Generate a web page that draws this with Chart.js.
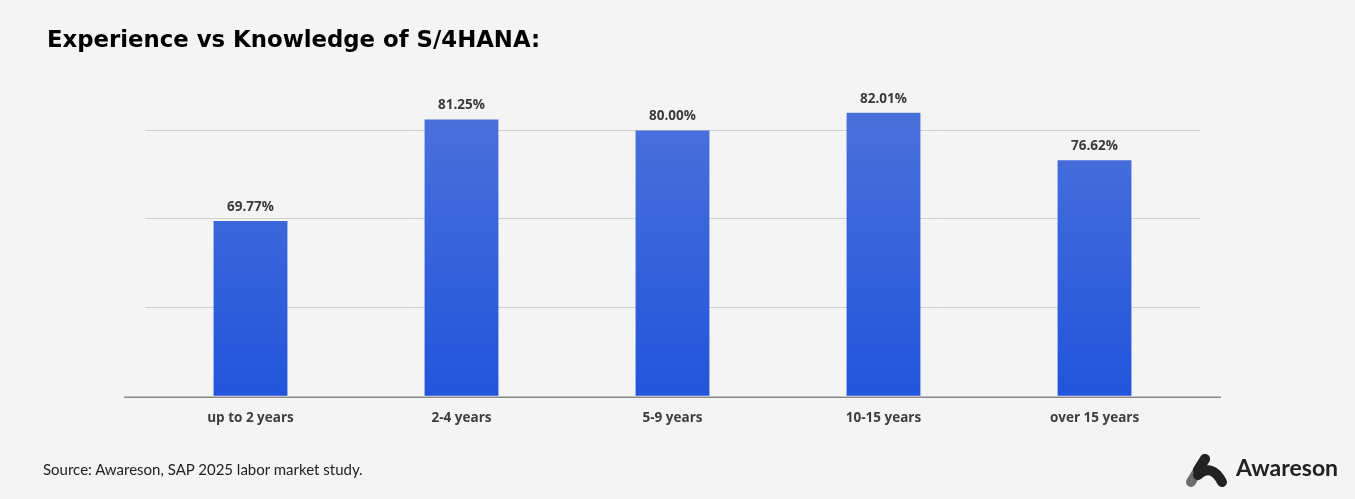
<!DOCTYPE html>
<html>
<head>
<meta charset="utf-8">
<script src="https://cdn.jsdelivr.net/npm/chart.js@4.4.1/dist/chart.umd.min.js"></script>
<style>
  html, body { margin: 0; padding: 0; background: #f4f4f4; }
  #wrap { position: relative; width: 1355px; height: 499px; overflow: hidden; }
  #title { position: absolute; left: 47px; top: 26px; font: 700 22.8px "DejaVu Sans", sans-serif; color: #000; margin: 0; }
  #source { position: absolute; left: 43px; top: 460px; font: 400 15px "Lato", sans-serif; color: #222; }
  #logo { position: absolute; left: 1183px; top: 449px; }
  #brand { position: absolute; left: 1236px; top: 453px; font: 700 23px "Lato", sans-serif; color: #222; }
  #chartBox { position: absolute; left: 0; top: 0; width: 1355px; height: 499px; }
</style>
</head>
<body>
<div id="wrap">
  <div id="chartBox"><canvas id="bar-chart"></canvas></div>
  <h1 id="title">Experience vs Knowledge of S/4HANA:</h1>
  <div id="source">Source: Awareson, SAP 2025 labor market study.</div>
  <svg id="logo" width="46" height="40" viewBox="0 0 46 40">
    <path d="M22 10 L8 33" stroke="#6d6d6d" stroke-width="10" stroke-linecap="round" fill="none"/>
    <path d="M22 10 L15 21" stroke="#222" stroke-width="10" stroke-linecap="round" fill="none"/>
    <path d="M15 26 Q29 14 39 33" stroke="#222" stroke-width="10" stroke-linecap="round" fill="none"/>
  </svg>
  <div id="brand">Awareson</div>
</div>
<script>
  const categories = ["up to 2 years", "2-4 years", "5-9 years", "10-15 years", "over 15 years"];
  const knowledgeShare = [69.77, 81.25, 80.00, 82.01, 76.62];
  const gridValues = [60, 70, 80];

  // value labels over the bars + the long base line
  const barExtras = {
    id: "barExtras",
    afterDatasetsDraw(chart) {
      const { ctx, chartArea, scales } = chart;
      const baseY = scales.y.getPixelForValue(50) + 1.5;
      ctx.save();
      ctx.strokeStyle = "#8a8a8a";
      ctx.lineWidth = 1.5;
      ctx.beginPath();
      ctx.moveTo(chartArea.left - 21, baseY);
      ctx.lineTo(chartArea.right + 21, baseY);
      ctx.stroke();

      ctx.fillStyle = "#3a3a3a";
      ctx.font = "700 13.5px 'Open Sans', sans-serif";
      ctx.textAlign = "center";
      ctx.textBaseline = "middle";
      chart.getDatasetMeta(0).data.forEach((bar, i) => {
        ctx.fillText(knowledgeShare[i].toFixed(2) + "%", bar.x, bar.y - 14);
      });
      ctx.restore();
    }
  };

  const ctx = document.getElementById("bar-chart").getContext("2d");
  new Chart(ctx, {
    type: "bar",
    data: {
      labels: categories,
      datasets: [
        {
          data: knowledgeShare,
          backgroundColor(c) {
            const area = c.chart.chartArea;
            if (!area) return "#3360db";
            const g = c.chart.ctx.createLinearGradient(0, c.chart.scales.y.getPixelForValue(82), 0, area.bottom);
            g.addColorStop(0, "#4a70db");
            g.addColorStop(1, "#2255db");
            return g;
          },
          borderWidth: 0,
          barPercentage: 0.35,
          categoryPercentage: 1
        }
      ]
    },
    options: {
      responsive: true,
      maintainAspectRatio: false,
      animation: false,
      layout: { padding: { left: 145, right: 155, top: 42, bottom: 59 } },
      plugins: {
        legend: { display: false },
        tooltip: { enabled: false },
        title: { display: false }
      },
      scales: {
        x: {
          grid: { display: false, drawTicks: false },
          border: { display: false },
          ticks: {
            color: "#3d3d3d",
            padding: 14,
            font: { family: "'Open Sans', sans-serif", size: 13.5, weight: "700" }
          }
        },
        y: {
          min: 50,
          max: 90,
          afterBuildTicks(scale) {
            scale.ticks = [50].concat(gridValues, [90]).map(v => ({ value: v }));
          },
          grid: {
            drawTicks: false,
            color: c => gridValues.includes(c.tick.value) ? "#d0d0d0" : "rgba(0,0,0,0)",
            lineWidth: 1
          },
          border: { display: false },
          ticks: { display: false }
        }
      }
    },
    plugins: [barExtras]
  });
</script>
</body>
</html>
